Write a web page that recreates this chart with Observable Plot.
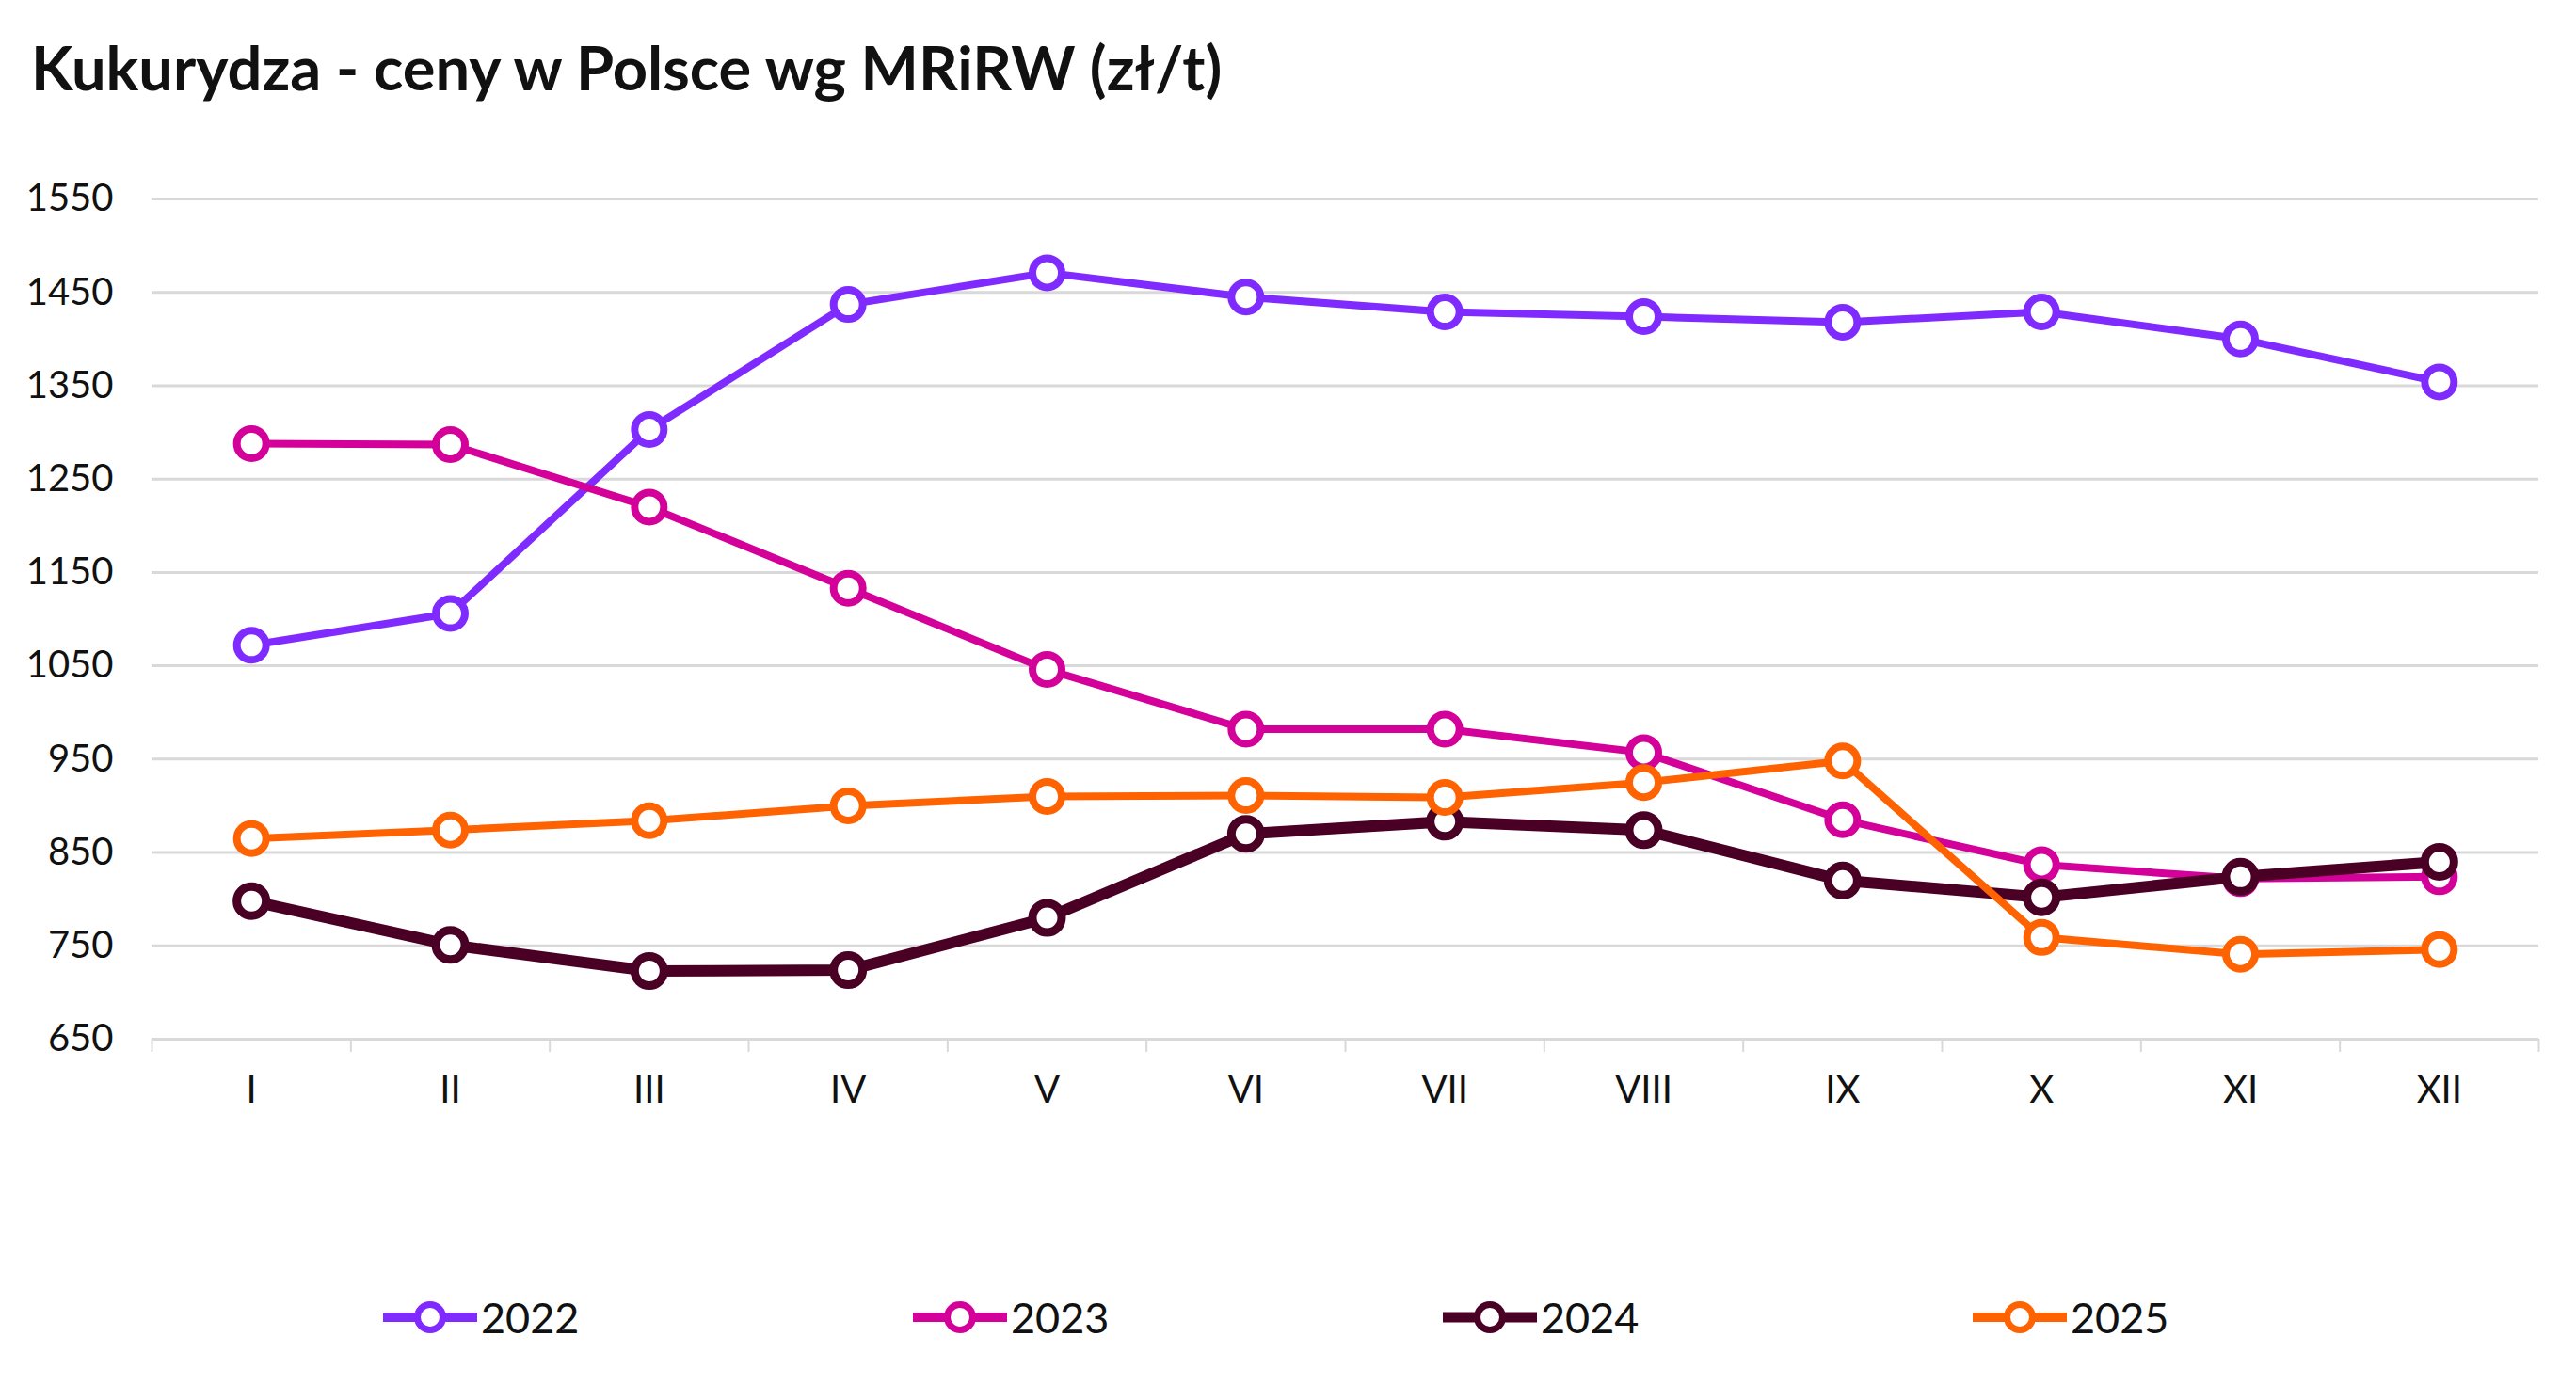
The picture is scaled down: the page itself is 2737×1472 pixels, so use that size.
<!DOCTYPE html>
<html>
<head>
<meta charset="utf-8">
<script src="https://cdn.jsdelivr.net/npm/d3@7"></script>
<script src="https://cdn.jsdelivr.net/npm/@observablehq/plot@0.6"></script>
<style>
  html, body { margin: 0; padding: 0; background: #fff; overflow: hidden; }
  #wrap { position: relative; width: 2737px; height: 1472px; font-family: Lato, "Open Sans", sans-serif; color: #111; }
  #title { position: absolute; left: 33px; top: 39px; font-size: 65px; font-weight: 700; line-height: 1; white-space: nowrap; color: #111; }
  #chart { position: absolute; left: 0; top: 150px; }
  #legend { position: absolute; left: 407px; top: 1370px; height: 60px; display: flex; align-items: center; }
  .item { display: flex; align-items: center; width: 563px; }
  .item span { font-size: 45px; margin-left: 4px; line-height: 1; }
</style>
</head>
<body>
<div id="wrap">
  <div id="title">Kukurydza - ceny w Polsce wg MRiRW (zł/t)</div>
  <div id="chart"></div>
  <div id="legend"></div>
</div>
<script>
// --- data ---
const months = ["I", "II", "III", "IV", "V", "VI", "VII", "VIII", "IX", "X", "XI", "XII"];
const years = ["2022", "2023", "2024", "2025"];
const v2022 = [1072, 1106, 1303, 1437, 1471, 1445, 1429, 1424, 1418, 1429, 1400, 1354];
const v2023 = [1288, 1287, 1220, 1133, 1046, 982, 982, 957, 885, 837, 822, 824];
const v2024 = [798, 751, 723, 724, 780, 870, 883, 874, 820, 802, 824, 840];
const v2025 = [865, 874, 884, 900, 910, 911, 909, 925, 948, 759, 741, 746];
const yTicks = [650, 750, 850, 950, 1050, 1150, 1250, 1350, 1450, 1550];

// --- styles ---
const colors = ["#7F2BFF", "#D4009A", "#4A0024", "#FF6200"];
const lineWidths = [8, 8, 12, 8];
const dotStroke = [8, 8, 9, 8];

const seriesValues = [v2022, v2023, v2024, v2025];
const data = years.flatMap((yr, k) => seriesValues[k].map((v, i) => ({year: yr, m: i + 1, v})));
const monthIdx = d3.range(1, months.length + 1);
const bounds = d3.range(0.5, months.length + 1, 1);

const seriesMarks = years.flatMap((yr, k) => {
  const d = data.filter(e => e.year === yr);
  return [
    Plot.line(d, {x: "m", y: "v", stroke: colors[k], strokeWidth: lineWidths[k], strokeLinejoin: "round", strokeLinecap: "round"}),
    Plot.dot(d, {x: "m", y: "v", r: 15.5, stroke: colors[k], strokeWidth: dotStroke[k], fill: "white"})
  ];
});

const chart = Plot.plot({
  width: 2737,
  height: 1050,
  marginLeft: 161,
  marginRight: 40,
  marginTop: 61,
  marginBottom: 96,
  style: {fontFamily: "Lato, 'Open Sans', sans-serif", fontSize: "40px", color: "#111", background: "white", overflow: "visible"},
  x: {type: "linear", domain: [0.5, months.length + 0.5]},
  y: {domain: [650, 1550]},
  marks: [
    Plot.gridY(yTicks, {stroke: "#d9d9d9", strokeOpacity: 1, strokeWidth: 3}),
    Plot.axisY(yTicks, {tickSize: 0, tickPadding: 41, fontSize: 40, tickFormat: d => String(d), label: null}),
    Plot.axisX(bounds, {tickSize: 14, stroke: "#d9d9d9", strokeOpacity: 1, strokeWidth: 2, tickFormat: () => "", label: null}),
    Plot.axisX(monthIdx, {tickSize: 0, tickPadding: 39, fontSize: 40, tickFormat: i => months[i - 1], label: null}),
    ...seriesMarks
  ]
});
document.getElementById("chart").appendChild(chart);

// --- legend ---
const legend = d3.select("#legend");
years.forEach((yr, k) => {
  const item = legend.append("div").attr("class", "item");
  const svg = item.append("svg").attr("width", 100).attr("height", 44);
  svg.append("line").attr("x1", 0).attr("x2", 100).attr("y1", 22).attr("y2", 22)
    .attr("stroke", colors[k]).attr("stroke-width", k === 2 ? 11 : 10);
  svg.append("circle").attr("cx", 50).attr("cy", 22).attr("r", 13.5)
    .attr("fill", "white").attr("stroke", colors[k]).attr("stroke-width", 7);
  item.append("span").text(yr);
});
</script>
</body>
</html>
